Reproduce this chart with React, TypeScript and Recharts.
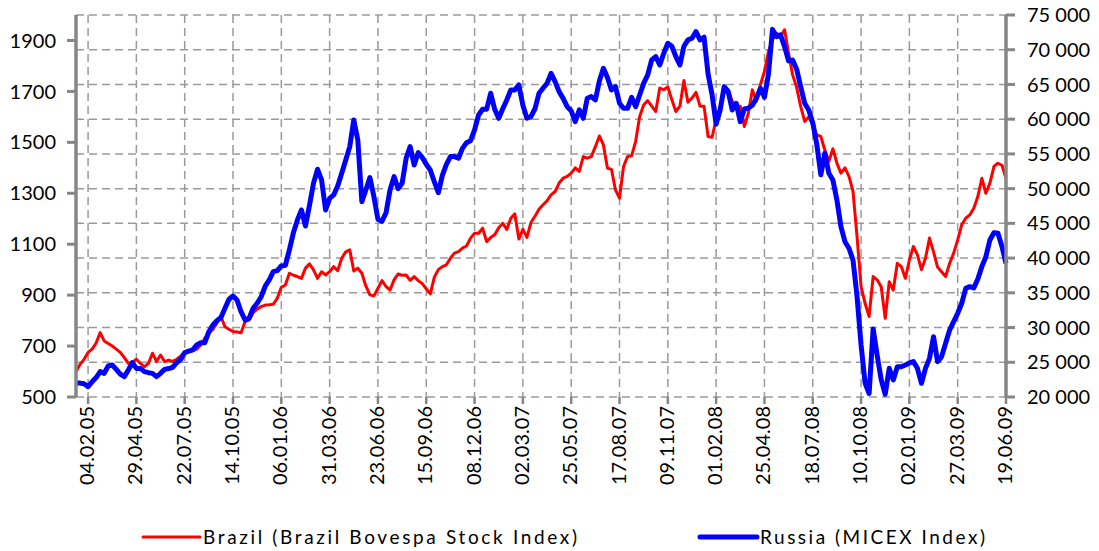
import React from 'react';
import {
    LineChart, Line, XAxis, YAxis, CartesianGrid, Legend,
} from 'recharts';

// weekly closes, first value is three weeks before 04.02.05
const FIRST_WEEK = -3;

const TICK_LABELS = [
    '04.02.05', '29.04.05', '22.07.05', '14.10.05', '06.01.06', '31.03.06', '23.06.06',
    '15.09.06', '08.12.06', '02.03.07', '25.05.07', '17.08.07', '09.11.07', '01.02.08',
    '25.04.08', '18.07.08', '10.10.08', '02.01.09', '27.03.09', '19.06.09',
];
const WEEKS_PER_LABEL = 12;

const BRAZIL = [
    600, 628, 648,
    675, 688, 712, 753, 720, 710, 700, 688, 675, 655, 632, 636,
    648, 632, 619, 632, 672, 640, 665, 639, 645, 640, 648, 660,
    672, 678, 682, 688, 704, 731, 750, 765, 790, 816, 776, 766,
    757, 755, 752, 796, 802, 831, 845, 855, 861, 862, 864, 888,
    931, 940, 986, 978, 973, 966, 1006, 1023, 999, 966, 992, 979,
    992, 1012, 996, 1045, 1070, 1078, 995, 1006, 986, 936, 901, 897,
    927, 957, 934, 920, 960, 983, 978, 979, 958, 973, 957, 945,
    925, 905, 970, 1000, 1012, 1019, 1045, 1065, 1071, 1085, 1093, 1124,
    1143, 1143, 1163, 1110, 1126, 1137, 1165, 1182, 1158, 1202, 1219, 1120,
    1158, 1127, 1185, 1210, 1237, 1255, 1270, 1294, 1307, 1340, 1359, 1366,
    1379, 1400, 1386, 1444, 1438, 1444, 1483, 1525, 1490, 1399, 1394, 1313,
    1281, 1405, 1444, 1447, 1503, 1601, 1647, 1664, 1642, 1621, 1713, 1707,
    1717, 1667, 1621, 1642, 1743, 1657, 1674, 1696, 1642, 1642, 1523, 1520,
    1590, 1640, 1696, 1706, 1661, 1642, 1642, 1562, 1614, 1706, 1661, 1726,
    1778, 1857, 1903, 1929, 1916, 1942, 1850, 1765, 1716, 1641, 1582, 1600,
    1569, 1529, 1523, 1470, 1425, 1475, 1418, 1379, 1400, 1366, 1307, 1130,
    933, 868, 816, 973, 960, 933, 809, 953, 920, 1025, 1012, 966,
    1038, 1091, 1058, 1000, 1045, 1124, 1070, 1010, 992, 973, 1025, 1065,
    1117, 1176, 1202, 1215, 1241, 1287, 1359, 1300, 1340, 1405, 1418, 1410,
    1359,
];

const RUSSIA = [
    22000, 22000, 21900,
    21500, 22200, 22800, 23650, 23410, 24460, 24600, 23980, 23300, 22930, 23890, 24940,
    24120, 24120, 23650, 23500, 23400, 22930, 23410, 23980, 24100, 24270, 24940, 25400,
    26400, 26600, 26800, 27490, 27820, 27820, 29400, 30370, 31000, 31450, 32770, 34070,
    34540, 33970, 32280, 31090, 31330, 32770, 33490, 34440, 35980, 36850, 38050, 38190,
    38860, 38950, 41170, 43660, 45500, 46930, 44620, 47600, 50800, 52790, 51250, 46930,
    48600, 49090, 50380, 52210, 54130, 56050, 59890, 57000, 48120, 49810, 51600, 48840,
    45570, 45300, 46500, 49800, 51730, 50000, 50760, 54370, 56050, 53410, 55180, 54500,
    53500, 52690, 51000, 49420, 51900, 53500, 54610, 54610, 54370, 55800, 56620, 56910,
    58450, 60610, 61430, 61430, 63730, 61430, 60130, 61500, 62770, 64210, 64210, 64930,
    62000, 60130, 60370, 61500, 63730, 64450, 65150, 66590, 65400, 63970, 63000, 61800,
    61200, 59640, 61330, 60130, 63010, 63250, 62770, 65500, 67330, 66000, 64210, 64690,
    62290, 61570, 61570, 63150, 61810, 63490, 65150, 66370, 68530, 69010, 67810, 69490,
    70930, 70500, 69010, 67800, 70500, 71410, 71650, 72610, 71410, 71800, 66500, 63500,
    59300, 61330, 64690, 63970, 61330, 62290, 59640, 61470, 61600, 62000, 63000, 64450,
    63150, 66500, 72930, 71890, 72130, 70450, 68400, 68530, 67200, 64690, 62290, 61330,
    59500, 56400, 52000, 55090, 52210, 51250, 48370, 44520, 42360, 41410, 39730, 34500,
    27500, 22000, 20500, 29800, 26000, 22500, 20400, 24130, 22450, 24360, 24360, 24600,
    24900, 25090, 24130, 21970, 24130, 25570, 28680, 25090, 25810, 27730, 29650, 30850,
    32050, 33490, 35650, 35890, 35700, 37000, 38770, 40200, 42610, 43660, 43570, 41650,
    39250,
];

const LEFT_TICKS = [500, 700, 900, 1100, 1300, 1500, 1700, 1900];
const RIGHT_TICKS = [20000, 25000, 30000, 35000, 40000, 45000, 50000, 55000, 60000, 65000, 70000, 75000];

const AXIS_GREY = '#868686';
const GRID_GREY = '#9a9a9a';
const FONT = 'Lato, "Open Sans", sans-serif';

const rows = BRAZIL.map((b, i) => ({ week: FIRST_WEEK + i, brazil: b, russia: RUSSIA[i] }));
const xTicks = TICK_LABELS.map((_, i) => i * WEEKS_PER_LABEL);

const spaced = (v: number) => String(v).replace(/\B(?=(\d{3})+(?!\d))/g, ' ');

const DateTick = (props: any) => {
    const { x, y, payload } = props;
    const label = TICK_LABELS[Math.round(payload.value / WEEKS_PER_LABEL)];
    return (
        <text transform={`translate(${x + 6},${y}) rotate(-90)`} textAnchor="end"
            fontSize={20} fontFamily={FONT} fill="#000">{label}</text>
    );
};

// legend item placement: [line start, text width]
const LEGEND_POS = [[143, 374], [700, 225]];

const renderLegend = (props: any) => (
    <svg width={1099} height={30}>
        {props.payload.map((entry: any, i: number) => {
            const [x0, tw] = LEGEND_POS[i];
            return (
                <g key={entry.value}>
                    <line x1={x0} x2={x0 + 57} y1={16} y2={16} stroke={entry.color}
                        strokeWidth={i === 0 ? 3 : 5} strokeLinecap="round" />
                    <text x={x0 + 60} y={23} fontSize={19} fontFamily={FONT} fill="#000"
                        textLength={tw} lengthAdjust="spacing">{entry.value}</text>
                </g>
            );
        })}
    </svg>
);

const App: React.FC = () => (
    <div style={{ width: 1099, height: 551 }}>
        <style>{'body { margin: 0; }'}</style>
        <LineChart width={1099} height={551} data={rows}
            margin={{ top: 15, right: 0, bottom: 0, left: 0 }}>
            <CartesianGrid yAxisId="right" stroke={GRID_GREY} strokeWidth={1.5}
                strokeDasharray="8 5" />
            <XAxis dataKey="week" type="number" domain={['dataMin', 'dataMax']} ticks={xTicks}
                interval={0} height={124} axisLine={false}
                tickLine={{ stroke: AXIS_GREY, strokeWidth: 2.5 }} tickSize={7} tickMargin={2}
                tick={<DateTick />} />
            <YAxis yAxisId="left" orientation="left" width={76} domain={[500, 2000]}
                ticks={LEFT_TICKS} interval={0} allowDataOverflow
                axisLine={{ stroke: AXIS_GREY, strokeWidth: 3.5 }}
                tickLine={{ stroke: AXIS_GREY, strokeWidth: 3 }} tickSize={9} tickMargin={11}
                tick={{ fill: '#000', fontSize: 20, fontFamily: FONT }} />
            <YAxis yAxisId="right" orientation="right" width={93} domain={[20000, 75000]}
                ticks={RIGHT_TICKS} interval={0}
                axisLine={{ stroke: AXIS_GREY, strokeWidth: 3.5 }}
                tickLine={{ stroke: AXIS_GREY, strokeWidth: 3 }} tickSize={9} tickMargin={12}
                tickFormatter={spaced}
                tick={{ fill: '#000', fontSize: 20, fontFamily: FONT }} />
            <Line yAxisId="left" dataKey="brazil" name="Brazil (Brazil Bovespa Stock Index)"
                stroke="#ff0000" strokeWidth={3} dot={false} isAnimationActive={false}
                strokeLinejoin="round" />
            <Line yAxisId="right" dataKey="russia" name="Russia (MICEX Index)"
                stroke="#0000ff" strokeWidth={5} dot={false} isAnimationActive={false}
                strokeLinejoin="round" />
            <Legend verticalAlign="bottom" height={30} content={renderLegend}
                wrapperStyle={{ left: 0, width: 1099 }} />
        </LineChart>
    </div>
);

export default App;
